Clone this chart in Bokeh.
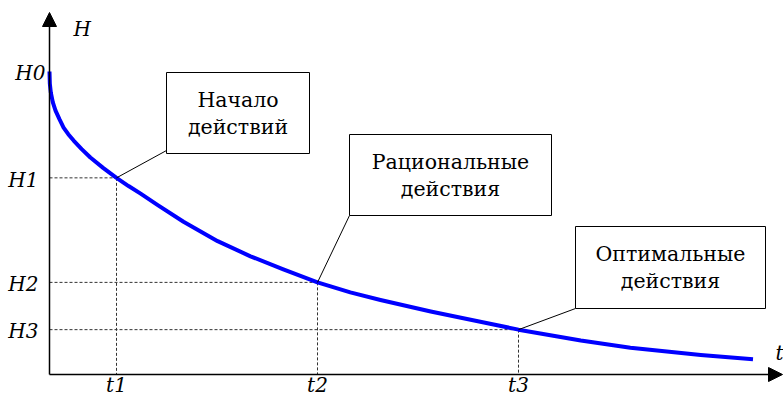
from bokeh.plotting import figure
from bokeh.models import Range1d, Arrow, NormalHead
from bokeh.core.properties import value
from bokeh.embed import file_html
from bokeh.resources import INLINE

# ---- data ----
curve_t = [0.0, 0.005, 0.02, 0.05, 0.09, 0.15, 0.21, 0.28, 0.36, 0.48, 0.61, 0.8, 1.0,
           1.18, 1.36, 1.61, 2.0, 2.51, 3.0, 3.49, 4.0, 4.49, 4.94, 5.69, 6.43, 7.0,
           7.93, 8.67, 9.72, 10.5]
curve_h = [10.0, 9.6, 9.3, 8.98, 8.71, 8.42, 8.15, 7.93, 7.72, 7.44, 7.16, 6.82, 6.49,
           6.22, 5.97, 5.6, 5.04, 4.4, 3.9, 3.47, 3.04, 2.71, 2.46, 2.08, 1.74, 1.48,
           1.12, 0.88, 0.64, 0.5]
t_pos = [1.0, 4.0, 7.0]
h_pos = [10.0, 6.49, 3.04, 1.48]
t_labels = ["t1", "t2", "t3"]
h_labels = ["H0", "H1", "H2", "H3"]
box_lines = [["Начало", "действий"], ["Рациональные", "действия"], ["Оптимальные", "действия"]]

# ---- layout helpers (picture pixels -> data) ----
def px(x):
    return (x - 49) / 67.0

def py(y):
    return (374 - y) / 30.3

W, H = 783, 396
p = figure(width=W, height=H, output_backend="svg", toolbar_location=None,
           x_range=Range1d(px(0), px(W)), y_range=Range1d(py(H), py(0)),
           x_axis_location=None, y_axis_location=None, min_border=0,
           outline_line_color=None, background_fill_color="white")
p.grid.visible = False

SERIF = value("DejaVu Serif")
DASH_COL = "#333333"

# dashed guide lines
for t, h in zip(t_pos, h_pos[1:]):
    p.line([0, t], [h, h], line_color=DASH_COL, line_width=1, line_dash="3 2")
    p.line([t, t], [h, 0], line_color=DASH_COL, line_width=1, line_dash="3 2")

# axes with arrows
p.add_layout(Arrow(x_start=0, y_start=0, x_end=0, y_end=py(12),
                   line_color="black", line_width=1.5,
                   end=NormalHead(size=14, fill_color="black", line_color="black")))
p.add_layout(Arrow(x_start=0, y_start=0, x_end=px(782), y_end=0,
                   line_color="black", line_width=1.5,
                   end=NormalHead(size=14, fill_color="black", line_color="black")))

# curve
p.line(curve_t, curve_h, line_color="#0000FF", line_width=4, line_join="round")

# callout boxes (picture-pixel layout)
boxes = [(166, 309, 72, 153), (349, 551, 134, 215), (575, 765, 226, 308)]
for i, (l, r, tp, b) in enumerate(boxes):
    p.segment(x0=[t_pos[i]], y0=[h_pos[i + 1]], x1=[px(l)], y1=[py(b - 3 if i == 0 else b)],
              line_color="black", line_width=1)
    p.quad(left=[px(l)], right=[px(r)], top=[py(tp)], bottom=[py(b)],
           fill_color="white", line_color="black", line_width=1)
    cx = (l + r) / 2
    cy = (tp + b) / 2
    p.text(x=[px(cx), px(cx)], y=[py(cy - 13.5), py(cy + 13.5)], text=box_lines[i],
           text_font=SERIF, text_font_size="20.5px", text_align="center",
           text_baseline="middle", text_color="black")

# axis labels
p.text(x=[px(73)], y=[py(28)], text=["H"], text_font=SERIF, text_font_style="italic",
       text_font_size="20px", text_align="left", text_baseline="middle", text_color="black")
p.text(x=[px(45)], y=[py(72)], text=[h_labels[0]], text_font=SERIF, text_font_style="italic",
       text_font_size="20px", text_align="right", text_baseline="middle", text_color="black")
p.text(x=[px(38)] * 3, y=[py(179), py(283), py(330)], text=h_labels[1:], text_font=SERIF,
       text_font_style="italic", text_font_size="20px", text_align="right",
       text_baseline="middle", text_color="black")
p.text(x=t_pos, y=[py(396)] * 3, text=t_labels, text_font=SERIF, text_font_style="italic",
       text_font_size="20px", text_align="center", text_baseline="bottom",
       text_color="black")
p.text(x=[px(783)], y=[py(352)], text=["t"], text_font=SERIF, text_font_style="italic",
       text_font_size="20px", text_align="right", text_baseline="middle", text_color="black")

open("out.html", "w").write(file_html(p, INLINE))
